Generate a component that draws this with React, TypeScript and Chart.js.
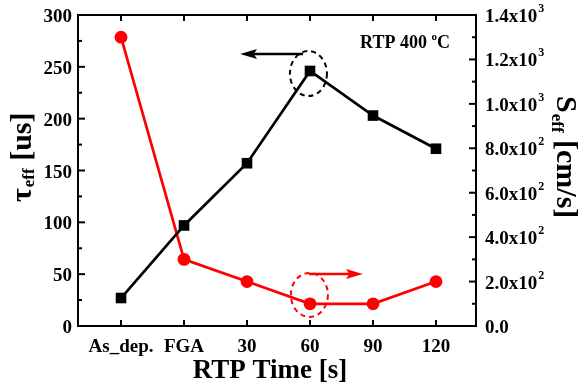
import React, { useEffect, useRef } from 'react';
import { Chart, registerables } from 'chart.js';

Chart.register(...registerables);

// ---- data ----
const categories = ['As_dep.', 'FGA', '30', '60', '90', '120'];
const tauEff = [27, 97, 157, 246, 203, 171]; // left axis [us]
const sEff = [1300, 300, 200, 100, 100, 200]; // right axis [cm/s]
const leftTicks = [0, 50, 100, 150, 200, 250, 300];
const leftMinorTicks = [25, 75, 125, 175, 225, 275];
const rightTicks = [0, 200, 400, 600, 800, 1000, 1200, 1400];
const rightMinorTicks = [100, 300, 500, 700, 900, 1100, 1300];

const FONT = '"Liberation Serif", "Times New Roman", serif';

function line(ctx: CanvasRenderingContext2D, x1: number, y1: number, x2: number, y2: number) {
  ctx.beginPath();
  ctx.moveTo(x1, y1);
  ctx.lineTo(x2, y2);
  ctx.stroke();
}

function arrow(ctx: CanvasRenderingContext2D, x1: number, y: number, x2: number, color: string) {
  const dir = x2 > x1 ? 1 : -1;
  const headLen = 17;
  const headHalf = 5;
  ctx.strokeStyle = color;
  ctx.fillStyle = color;
  ctx.lineWidth = 2.5;
  ctx.setLineDash([]);
  line(ctx, x1, y, x2 - dir * headLen * 0.8, y);
  ctx.beginPath();
  ctx.moveTo(x2, y);
  ctx.lineTo(x2 - dir * headLen, y - headHalf);
  ctx.lineTo(x2 - dir * headLen * 0.8, y);
  ctx.lineTo(x2 - dir * headLen, y + headHalf);
  ctx.closePath();
  ctx.fill();
}

function fmtRight(v: number): [string, string] {
  if (v === 0) return ['0.0', ''];
  const e = Math.floor(Math.log10(v) + 1e-9);
  const m = v / Math.pow(10, e);
  return [m.toFixed(1) + 'x10', String(e)];
}

const customPlugin = {
  id: 'customAxes',
  beforeDatasetsDraw(chart: any) {
    const { ctx, chartArea: a, scales } = chart;
    const x = scales.x;
    const y = scales.y;
    const y2 = scales.y2;
    ctx.save();
    ctx.strokeStyle = '#000';
    ctx.fillStyle = '#000';
    ctx.lineWidth = 2;
    ctx.strokeRect(a.left, a.top, a.right - a.left, a.bottom - a.top);
    ctx.lineWidth = 2;
    categories.forEach((_, i) => {
      const px = x.getPixelForValue(i);
      line(ctx, px, a.bottom, px, a.bottom - 6);
      line(ctx, px, a.top, px, a.top + 6);
    });
    leftTicks.forEach((v) => {
      const py = y.getPixelForValue(v);
      line(ctx, a.left, py, a.left + 7, py);
    });
    leftMinorTicks.forEach((v) => {
      const py = y.getPixelForValue(v);
      line(ctx, a.left, py, a.left + 4, py);
    });
    rightTicks.forEach((v) => {
      const py = y2.getPixelForValue(v);
      line(ctx, a.right, py, a.right - 7, py);
    });
    rightMinorTicks.forEach((v) => {
      const py = y2.getPixelForValue(v);
      line(ctx, a.right, py, a.right - 4, py);
    });

    // tick labels
    ctx.font = `bold 19px ${FONT}`;
    ctx.textBaseline = 'alphabetic';
    ctx.textAlign = 'right';
    leftTicks.forEach((v) => {
      const py = y.getPixelForValue(v);
      ctx.fillText(String(v), a.left - 6, py + 7);
    });
    ctx.textAlign = 'center';
    categories.forEach((c, i) => {
      const px = x.getPixelForValue(i);
      ctx.fillText(c, px, a.bottom + 26);
    });
    ctx.textAlign = 'left';
    rightTicks.forEach((v) => {
      const py = y2.getPixelForValue(v);
      const [main, sup] = fmtRight(v);
      ctx.font = `bold 19px ${FONT}`;
      ctx.fillText(main, a.right + 9, py + 7);
      if (sup) {
        const w = ctx.measureText(main).width;
        ctx.font = `bold 12px ${FONT}`;
        ctx.fillText(sup, a.right + 9 + w + 1, py - 3);
      }
    });

    // x title
    ctx.font = `bold 27px ${FONT}`;
    ctx.textAlign = 'center';
    ctx.fillText('RTP Time [s]', 270, a.bottom + 52);

    // left title (rotated, reading upward)
    ctx.save();
    ctx.translate(31, 202);
    ctx.rotate(-Math.PI / 2);
    ctx.textAlign = 'left';
    ctx.font = `bold 30px ${FONT}`;
    ctx.fillText('\u03C4', 0, 0);
    let w = ctx.measureText('\u03C4').width;
    ctx.font = `bold 17px ${FONT}`;
    ctx.fillText('eff', w + 1, 3);
    w += ctx.measureText('eff').width + 1;
    ctx.font = `bold 30px ${FONT}`;
    ctx.fillText(' [us]', w, 0);
    ctx.restore();

    // right title (rotated, reading downward)
    ctx.save();
    ctx.translate(557, 96);
    ctx.rotate(Math.PI / 2);
    ctx.textAlign = 'left';
    ctx.font = `bold 30px ${FONT}`;
    ctx.fillText('S', 0, 0);
    let w2 = ctx.measureText('S').width;
    ctx.font = `bold 17px ${FONT}`;
    ctx.fillText('eff', w2 + 1, 5);
    w2 += ctx.measureText('eff').width + 1;
    ctx.font = `bold 30px ${FONT}`;
    ctx.fillText(' [cm/s]', w2, 0);
    ctx.restore();

    ctx.restore();
  },
  afterDatasetsDraw(chart: any) {
    const { ctx, scales } = chart;
    const x = scales.x;
    const y = scales.y;
    const y2 = scales.y2;
    ctx.save();
    // black dashed ellipse around the 60 s tau point
    ctx.lineWidth = 2;
    ctx.setLineDash([5, 4]);
    ctx.strokeStyle = '#000';
    ctx.beginPath();
    ctx.ellipse(x.getPixelForValue(2.975), y.getPixelForValue(243.5), 18.5, 22.5, 0, 0, Math.PI * 2);
    ctx.stroke();
    // red dashed ellipse around 60 s S point
    ctx.strokeStyle = '#ff0000';
    ctx.beginPath();
    ctx.ellipse(x.getPixelForValue(2.99), y2.getPixelForValue(140), 18.5, 22, 0, 0, Math.PI * 2);
    ctx.stroke();
    // arrows
    arrow(ctx, x.getPixelForValue(2.89), y.getPixelForValue(262.4), x.getPixelForValue(1.89), '#000');
    arrow(ctx, x.getPixelForValue(2.985), y2.getPixelForValue(234), x.getPixelForValue(3.84), '#ff0000');
    // label
    ctx.fillStyle = '#000';
    ctx.font = `bold 18px ${FONT}`;
    ctx.textAlign = 'left';
    ctx.textBaseline = 'alphabetic';
    const tx = x.getPixelForValue(3.794);
    const ty = y.getPixelForValue(268.2);
    const s1 = 'RTP 400 ';
    ctx.fillText(s1, tx, ty);
    const w1 = ctx.measureText(s1).width;
    ctx.font = `bold 11px ${FONT}`;
    ctx.fillText('o', tx + w1, ty - 8);
    const wo = ctx.measureText('o').width;
    ctx.font = `bold 18px ${FONT}`;
    ctx.fillText('C', tx + w1 + wo, ty);
    ctx.restore();
  },
};

export default function App() {
  const canvasRef = useRef<HTMLCanvasElement | null>(null);
  useEffect(() => {
    document.body.style.margin = '0';
    document.body.style.overflow = 'hidden';
    const canvas = canvasRef.current;
    if (!canvas) return;
    const chart = new Chart(canvas, {
      type: 'line',
      data: {
        datasets: [
          {
            label: 'tau',
            data: tauEff.map((v, i) => ({ x: i, y: v })),
            yAxisID: 'y',
            borderColor: '#000',
            backgroundColor: '#000',
            borderWidth: 2.7,
            pointStyle: 'rect',
            pointRadius: 7.5,
            pointBorderWidth: 0,
            pointHoverRadius: 7.5,
            tension: 0,
          },
          {
            label: 'S',
            data: sEff.map((v, i) => ({ x: i, y: v })),
            yAxisID: 'y2',
            borderColor: '#ff0000',
            backgroundColor: '#ff0000',
            borderWidth: 2.7,
            pointStyle: 'circle',
            pointRadius: 6.4,
            pointBorderWidth: 0,
            pointHoverRadius: 6.4,
            tension: 0,
          },
        ],
      },
      options: {
        responsive: false,
        animation: false,
        layout: { padding: { left: 78, right: 102, top: 15, bottom: 61 } },
        plugins: { legend: { display: false }, tooltip: { enabled: false } },
        scales: {
          x: { type: 'linear', min: -0.683, max: 5.635, display: false },
          y: { type: 'linear', min: 0, max: 300, display: false },
          y2: { type: 'linear', min: 0, max: 1400, display: false, position: 'right' },
        },
      },
      plugins: [customPlugin],
    });
    return () => chart.destroy();
  }, []);
  return (
    <div style={{ width: 578, height: 387, background: '#fff' }}>
      <canvas ref={canvasRef} width={578} height={387} style={{ display: 'block' }} />
    </div>
  );
}
